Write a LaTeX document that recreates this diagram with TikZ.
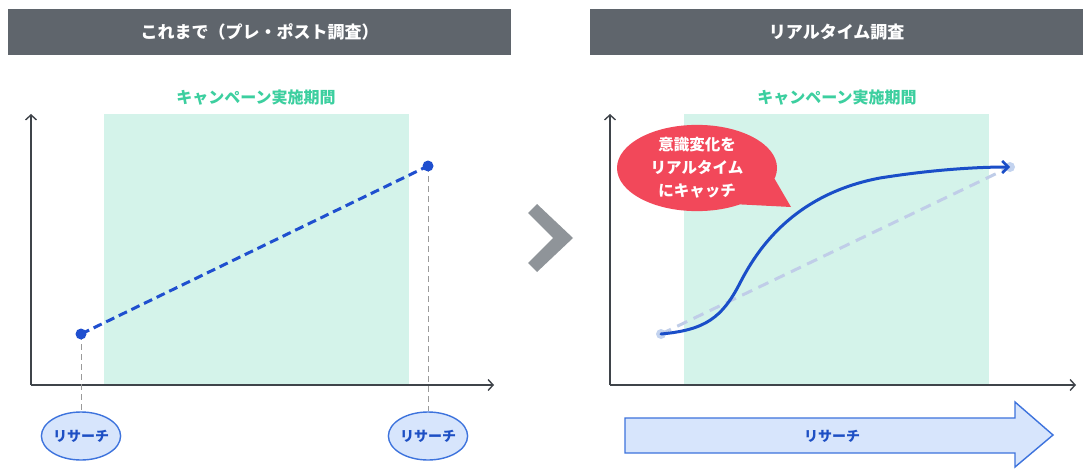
\documentclass[tikz,border=0pt]{standalone}
\usepackage{fontspec}
\setmainfont{Noto Sans CJK JP}
\usetikzlibrary{arrows.meta,shapes.geometric}
\definecolor{hdrgray}{HTML}{5F656C}
\definecolor{campgreen}{HTML}{D4F3EA}
\definecolor{titlegreen}{HTML}{3CCF9F}
\definecolor{axisgray}{HTML}{3F444A}
\definecolor{dotblue}{HTML}{1F4FCF}
\definecolor{curveblue}{HTML}{1A4EC8}
\definecolor{vgray}{HTML}{9A9A9A}
\definecolor{ellfill}{HTML}{D7E5FC}
\definecolor{ellborder}{HTML}{3D73DD}
\definecolor{ltext}{HTML}{1D4FC4}
\definecolor{lightdash}{HTML}{C0CDE8}
\definecolor{lightdot}{HTML}{C3D3EF}
\definecolor{bubblered}{HTML}{F2485A}
\definecolor{chevgray}{HTML}{8F9499}
\begin{document}
\begin{tikzpicture}[x=1pt,y=-1pt,
  hdr/.style={fill=hdrgray, minimum height=46pt, inner sep=0pt, anchor=north west, text=white, font=\bfseries\fontsize{17}{17}\selectfont},
  camp/.style={fill=campgreen, minimum width=305pt, minimum height=271pt, inner sep=0pt, outer sep=0pt, anchor=north west},
  ctitle/.style={text=titlegreen, font=\bfseries\fontsize{16}{16}\selectfont},
  axis/.style={draw=axisgray, line width=1.4pt, -{Straight Barb[length=5pt,width=11pt,line width=1.4pt]}},
  bdot/.style={circle, fill=dotblue, minimum size=11pt, inner sep=0pt},
  ldot/.style={circle, fill=lightdot, minimum size=10pt, inner sep=0pt},
  bluedash/.style={draw=dotblue, line width=3pt, dash pattern=on 9pt off 5pt},
  graydash/.style={draw=vgray, line width=1pt, dash pattern=on 6pt off 4pt},
  lightdashed/.style={draw=lightdash, line width=3pt, dash pattern=on 11pt off 7pt},
  research/.style={ellipse, draw=ellborder, fill=ellfill, line width=1.4pt, minimum width=76pt, minimum height=48pt, inner sep=0pt, text=ltext, font=\bfseries\fontsize{14}{14}\selectfont},
  curve/.style={draw=curveblue, line width=3pt, line cap=round, -{Straight Barb[length=6pt,width=12pt,line width=2.5pt]}},
  bubble/.style={ellipse, fill=bubblered, minimum width=160pt, minimum height=86pt, inner sep=0pt, align=center, text=white, font=\bfseries\fontsize{15.5}{23}\selectfont},
  bigarrow/.style={draw=ellborder, fill=ellfill, line width=1.4pt, line join=miter},
]
\useasboundingbox[fill=white] (0,0) rectangle (1083,468);

% headers
\node[hdr, minimum width=503pt] (h1) at (8,9) {これまで（プレ・ポスト調査）};
\node[hdr, minimum width=493pt] (h2) at (590,9) {リアルタイム調査};

% ---------- left chart ----------
\node[camp] (c1) at (104,114) {};
\node[ctitle] (t1) at (256,98) {キャンペーン実施期間};
\coordinate (o1) at (31,385);
\coordinate (y1) at (31,114);
\coordinate (x1) at (494,385);
\draw[axis] (o1) -- (y1);
\draw[axis] (o1) -- (x1);

\node[research] (r1) at (81,436) {リサーチ};
\node[research] (r2) at (428,436) {リサーチ};
\coordinate (p1c) at (81,334);
\coordinate (p2c) at (428,166);
\draw[graydash] (p1c) -- (r1);
\draw[graydash] (p2c) -- (r2);
\draw[bluedash] (p1c) -- (p2c);
\node[bdot] (p1) at (p1c) {};
\node[bdot] (p2) at (p2c) {};

% chevron
\fill[chevgray] (528,213) -- (537,204) -- (573,238) -- (537,272) -- (528,263) -- (553,238) -- cycle;

% ---------- right chart ----------
\node[camp] (c2) at (684,114) {};
\node[ctitle] (t2) at (837,98) {キャンペーン実施期間};
\coordinate (o2) at (610,385);
\coordinate (y2) at (610,114);
\coordinate (x2) at (1076,385);
\draw[axis] (o2) -- (y2);
\draw[axis] (o2) -- (x2);

\node[ldot] (q1) at (661,334) {};
\node[ldot] (q2) at (1010,167) {};
\draw[lightdashed] (q1.center) -- (q2.center);
\coordinate (m1) at (740,283);
\coordinate (m2) at (880,178);
\draw[curve] (q1.center) .. controls (705,330) and (722,318) .. (m1)
  .. controls (755,254) and (790,195) .. (m2)
  .. controls (930,170) and (975,167) .. (q2.center);

% speech bubble
\node[bubble] (b) at (697,168) {意識変化を\\リアルタイム\\にキャッチ};
\coordinate (tip) at (791,207);
\fill[bubblered] (b.-8) -- (tip) -- (b.-40) -- cycle;

% bottom arrow
\coordinate (a0) at (625,418);
\draw[bigarrow] (a0) -- (1015,418) -- (1015,402) -- (1053,435) -- (1015,467) -- (1015,453) -- (625,453) -- cycle;
\node[text=ltext, font=\bfseries\fontsize{14}{14}\selectfont] (ra) at (832,436) {リサーチ};
\end{tikzpicture}
\end{document}
